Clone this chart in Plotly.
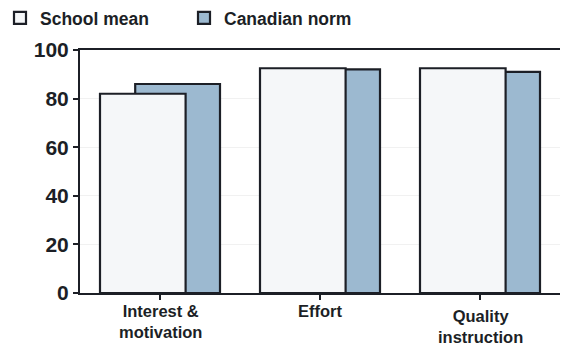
import plotly.graph_objects as go

categories = ["Interest &<br>motivation", "Effort", "Quality<br>instruction"]
school_mean = [82, 92.5, 92.5]
canadian_norm = [86, 92, 91]
y_ticks = [0, 20, 40, 60, 80, 100]

FONT = "Liberation Sans, Arial, sans-serif"
INK = "#1c1f26"

fig = go.Figure()

# Canadian norm sits behind, shifted right; school mean overlaps it in front
fig.add_trace(go.Bar(
    x=categories, y=canadian_norm, name="Canadian norm",
    width=0.53, offset=-0.155,
    marker=dict(color="#9cb9d0", line=dict(color=INK, width=2.2)),
))
fig.add_trace(go.Bar(
    x=categories, y=school_mean, name="School mean",
    width=0.535, offset=-0.375,
    marker=dict(color="#f5f7f9", line=dict(color=INK, width=2.2)),
))

# category labels placed under the axis
label_shift = [0, 0, -5]
for cat, dy in zip(categories, label_shift):
    fig.add_annotation(
        x=cat, y=0, xref="x", yref="y", text=f"<b>{cat}</b>", showarrow=False,
        yanchor="top", yshift=-7 + dy,
        font=dict(family=FONT, size=16.5, color=INK),
    )

fig.update_layout(
    width=561, height=349,
    margin=dict(l=80, r=1, t=50, b=56),
    paper_bgcolor="white", plot_bgcolor="white",
    barmode="overlay",
    font=dict(family=FONT, color=INK),
    legend=dict(
        orientation="h", traceorder="reversed",
        xref="container", yref="container", x=0, y=1,
        xanchor="left", yanchor="top",
        font=dict(family=FONT, size=17.5, color=INK, weight="bold"),
        entrywidth=139, entrywidthmode="pixels",
        itemclick=False, bgcolor="rgba(0,0,0,0)",
    ),
    xaxis=dict(
        range=[-0.5, 2.5], showticklabels=False,
        showline=True, linecolor=INK, linewidth=2, mirror=True,
        ticks="outside", ticklen=5, tickwidth=1.5, tickcolor=INK,
        showgrid=False,
    ),
    yaxis=dict(
        range=[0, 100], tickvals=y_ticks,
        showline=True, linecolor=INK, linewidth=2,
        ticks="outside", ticklen=5, tickwidth=1.5, tickcolor=INK,
        tickfont=dict(family=FONT, size=21, color=INK, weight="bold"),
        showgrid=True, gridcolor="#f1f1f1", gridwidth=1,
        zeroline=False,
    ),
)

fig.write_html("out.html")
